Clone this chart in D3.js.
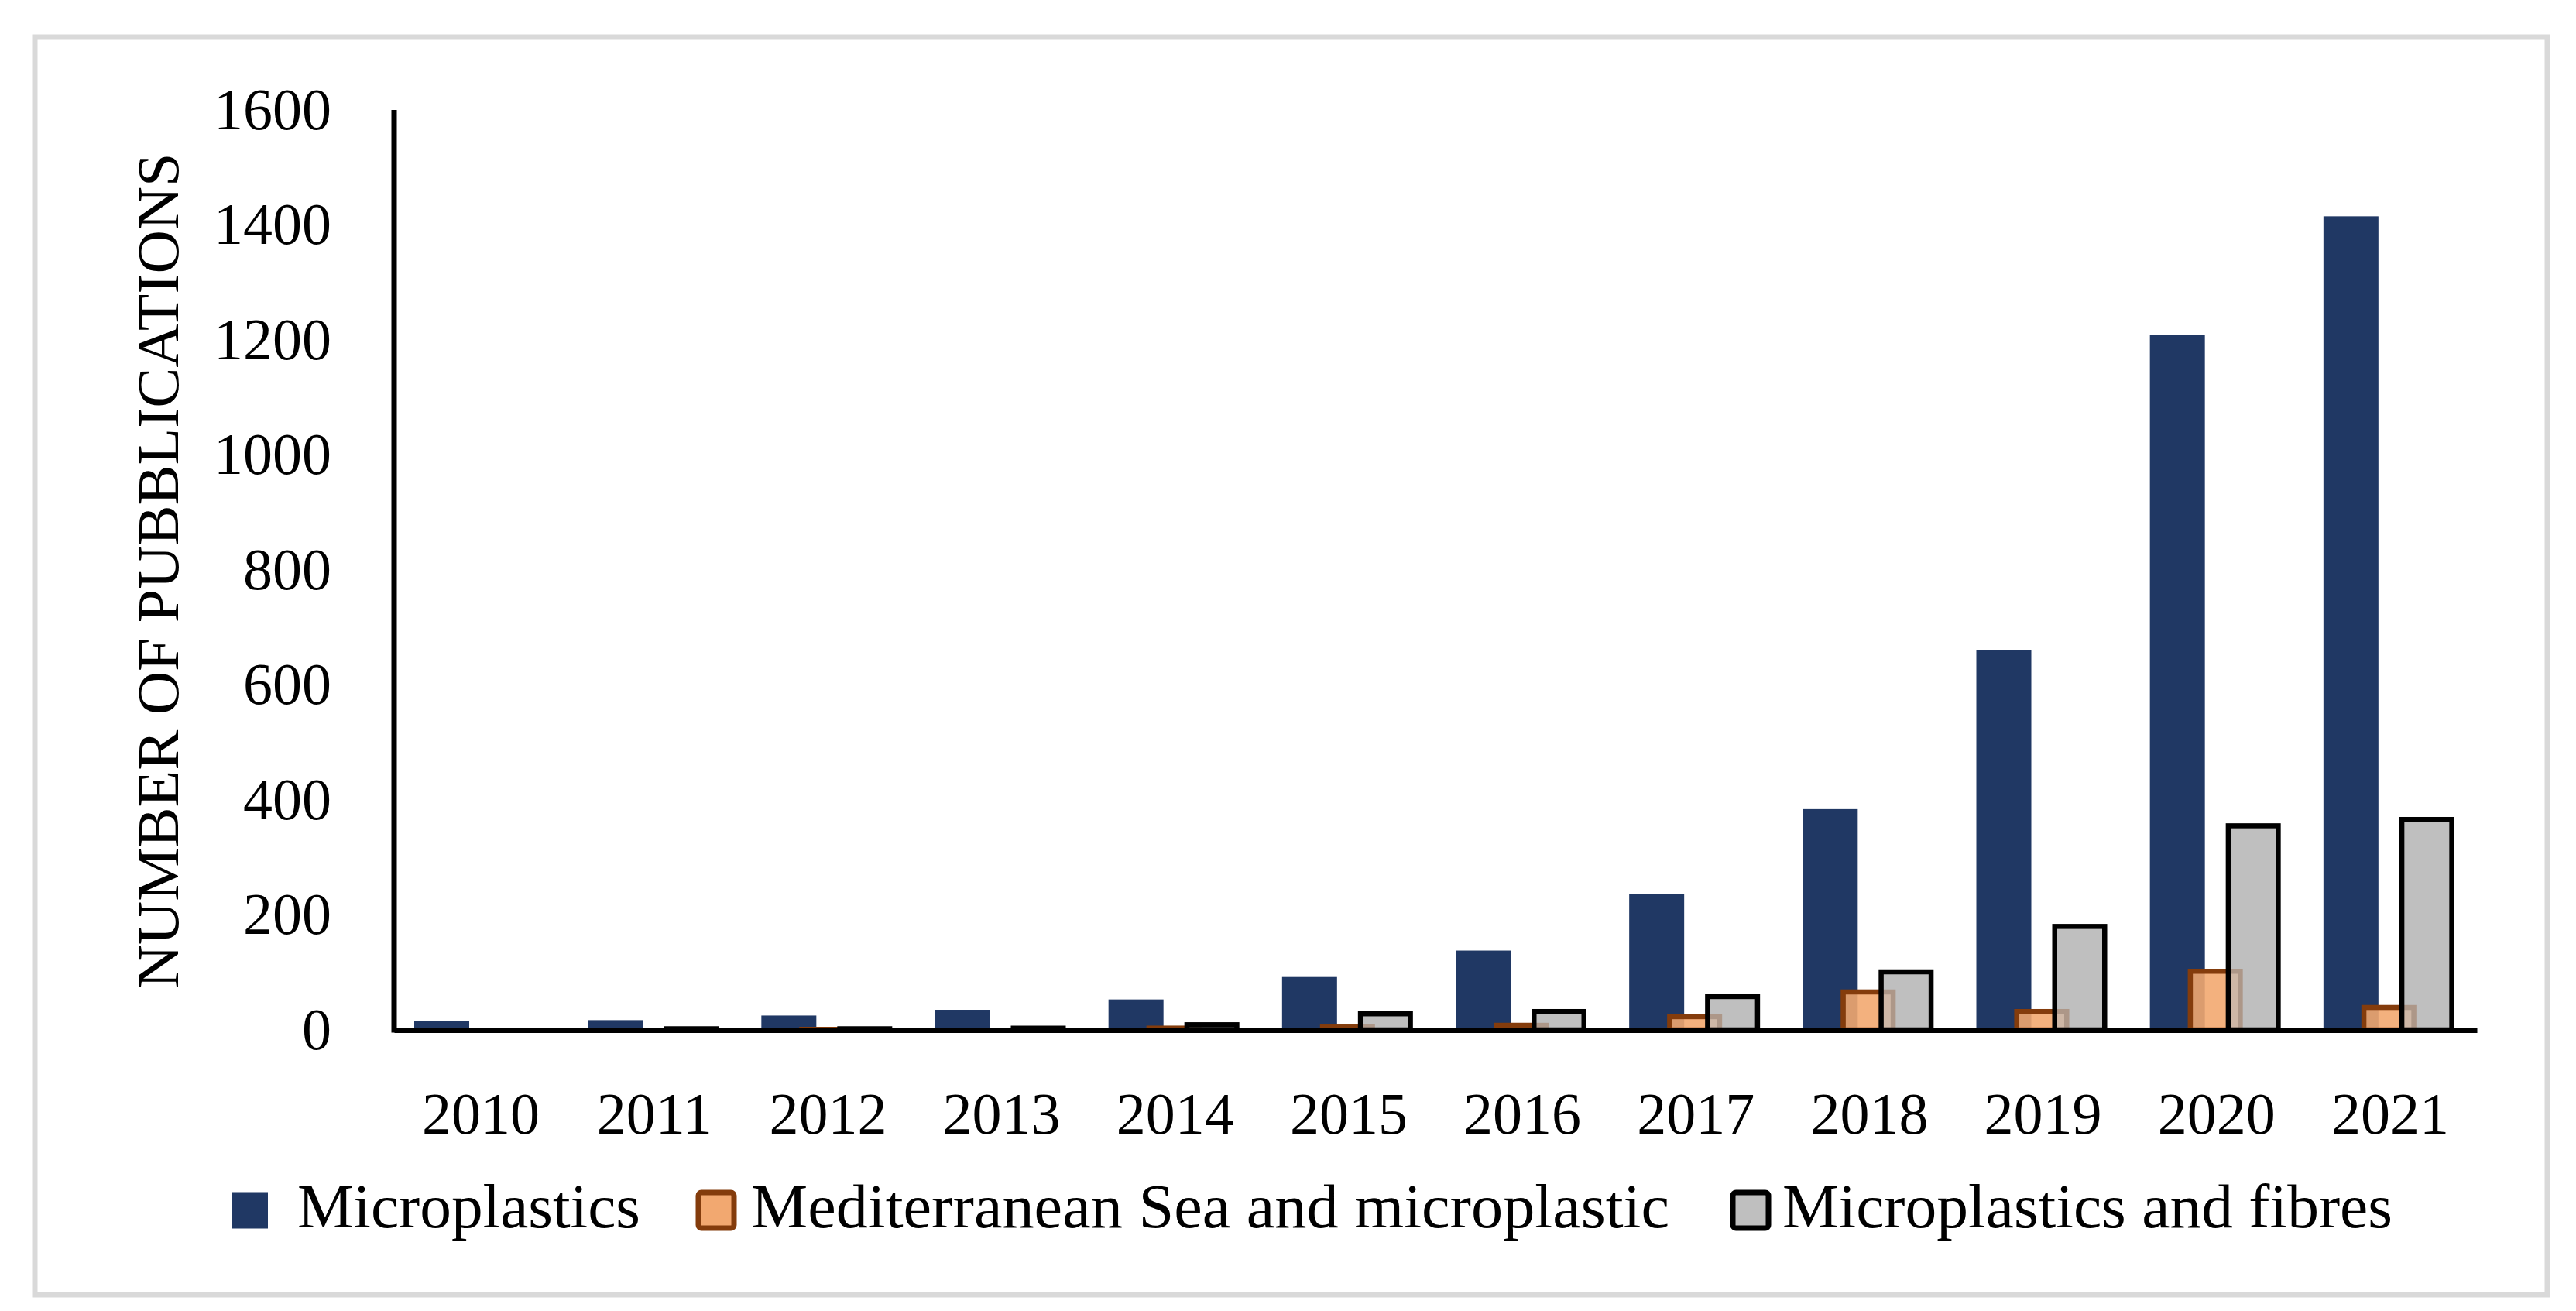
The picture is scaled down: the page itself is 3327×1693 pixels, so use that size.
<!DOCTYPE html>
<html>
<head>
<meta charset="utf-8">
<script src="https://cdn.jsdelivr.net/npm/d3@7"></script>
<style>
  body { margin: 0; background: #fff; }
  text { font-family: 'Liberation Serif', 'Times New Roman', serif; fill: #000; }
</style>
</head>
<body>
<script>
// values
const years = ['2010', '2011', '2012', '2013', '2014', '2015', '2016', '2017', '2018', '2019', '2020', '2021'];
const microplastics = [15, 17, 25, 35, 53, 92, 138, 237, 384, 660, 1209, 1415];
const mediterranean = [0, 0, 1, 0, 3, 5, 8, 23, 66, 32, 102, 39];
const fibres = [0, 2, 2, 3, 9, 28, 32, 58, 101, 180, 355, 366];
const yTicks = [0, 200, 400, 600, 800, 1000, 1200, 1400, 1600];
const seriesNames = ['Microplastics', 'Mediterranean Sea and microplastic', 'Microplastics and fibres'];
const yTitle = 'NUMBER OF PUBBLICATIONS';

const W = 3327, H = 1693;
const navy = '#203864', orange = '#f2a870', brown = '#843c0c', grey = '#bfbfbf';

const svg = d3.select('body').append('svg')
    .attr('width', W)
    .attr('height', H);

svg.append('rect')
    .attr('width', W).attr('height', H)
    .attr('fill', '#fff');

// light frame round the figure
svg.append('rect')
    .attr('x', 45).attr('y', 48)
    .attr('width', 3245).attr('height', 1624)
    .attr('fill', 'none')
    .attr('stroke', '#d9d9d9')
    .attr('stroke-width', 7);

const x = d3.scaleBand().domain(years).range([509, 3199]).padding(0);
const y = d3.scaleLinear().domain([0, 1600]).range([1330, 142]);

// bars overlap inside each year group
const inner = d3.scaleBand().domain(seriesNames).range([26, 173]);
const barW = 71;
const sw = 6.5;

function rows(values, name) {
    return values.map((v, i) => ({year: years[i], value: v, name: name}));
}
const microRows = rows(microplastics, seriesNames[0]);
const medRows = rows(mediterranean, seriesNames[1]);
const fibreRows = rows(fibres, seriesNames[2]);

function bars(g, data, stroked) {
    const pad = stroked ? sw / 2 : 0;
    return g.selectAll('rect').data(data).enter().append('rect')
        .attr('x', d => x(d.year) + inner(d.name) + pad)
        .attr('width', barW - 2 * pad)
        .attr('y', d => y(d.value))
        .attr('height', d => y(0) - y(d.value));
}

bars(svg.append('g'), microRows, false)
    .attr('fill', navy);

bars(svg.append('g'), medRows, true)
    .attr('fill', orange)
    .attr('fill-opacity', 0.85)
    .attr('stroke', brown)
    .attr('stroke-width', sw);

bars(svg.append('g'), fibreRows, true)
    .attr('fill', grey);

// faint orange showing through the grey bars
bars(svg.append('g'), medRows, true)
    .attr('fill', orange)
    .attr('stroke', brown)
    .attr('stroke-width', sw)
    .attr('opacity', 0.3);

bars(svg.append('g'), fibreRows, true)
    .attr('fill', 'none')
    .attr('stroke', '#000')
    .attr('stroke-width', sw);

// axes
const yAxis = svg.append('g')
    .attr('transform', 'translate(509,0)')
    .call(d3.axisLeft(y).tickValues(yTicks).tickFormat(d3.format('d'))
        .tickSize(0).tickSizeOuter(0).tickPadding(81));
yAxis.select('.domain').remove();
yAxis.selectAll('text')
    .style('font-size', '76px')
    .style('font-family', "'Liberation Serif', serif");

svg.append('line')
    .attr('x1', 509).attr('x2', 509)
    .attr('y1', y(1600)).attr('y2', y(0) + 3.5)
    .attr('stroke', '#000').attr('stroke-width', 7);

const xAxis = svg.append('g')
    .attr('transform', `translate(0,${y(0)})`)
    .call(d3.axisBottom(x).tickSize(0).tickSizeOuter(0).tickPadding(80));
xAxis.select('.domain')
    .attr('stroke', '#000')
    .attr('stroke-width', 7);
xAxis.selectAll('text')
    .style('font-size', '76px')
    .style('font-family', "'Liberation Serif', serif");

svg.append('text')
    .attr('transform', 'translate(230,737) rotate(-90)')
    .attr('text-anchor', 'middle')
    .attr('textLength', 1079)
    .attr('lengthAdjust', 'spacingAndGlyphs')
    .style('font-size', '76px')
    .text(yTitle);

// legend
const legend = svg.append('g');
const legendItems = [
    {name: seriesNames[0], fill: navy, stroke: 'none', size: 47, textX: 384, textW: 443, boxX: 299},
    {name: seriesNames[1], fill: orange, stroke: brown, size: 46, textX: 970, textW: 1186, boxX: 902},
    {name: seriesNames[2], fill: grey, stroke: '#000', size: 46, textX: 2302, textW: 788, boxX: 2238}
];
legendItems.forEach(it => {
    legend.append('rect')
        .attr('x', it.boxX)
        .attr('y', 1563 - it.size / 2)
        .attr('width', it.size).attr('height', it.size)
        .attr('rx', it.stroke === 'none' ? 0 : 4)
        .attr('fill', it.fill)
        .attr('stroke', it.stroke)
        .attr('stroke-width', 7);
    legend.append('text')
        .attr('x', it.textX)
        .attr('y', 1585)
        .attr('textLength', it.textW)
        .attr('lengthAdjust', 'spacingAndGlyphs')
        .style('font-size', '80px')
        .text(it.name);
});
</script>
</body>
</html>
